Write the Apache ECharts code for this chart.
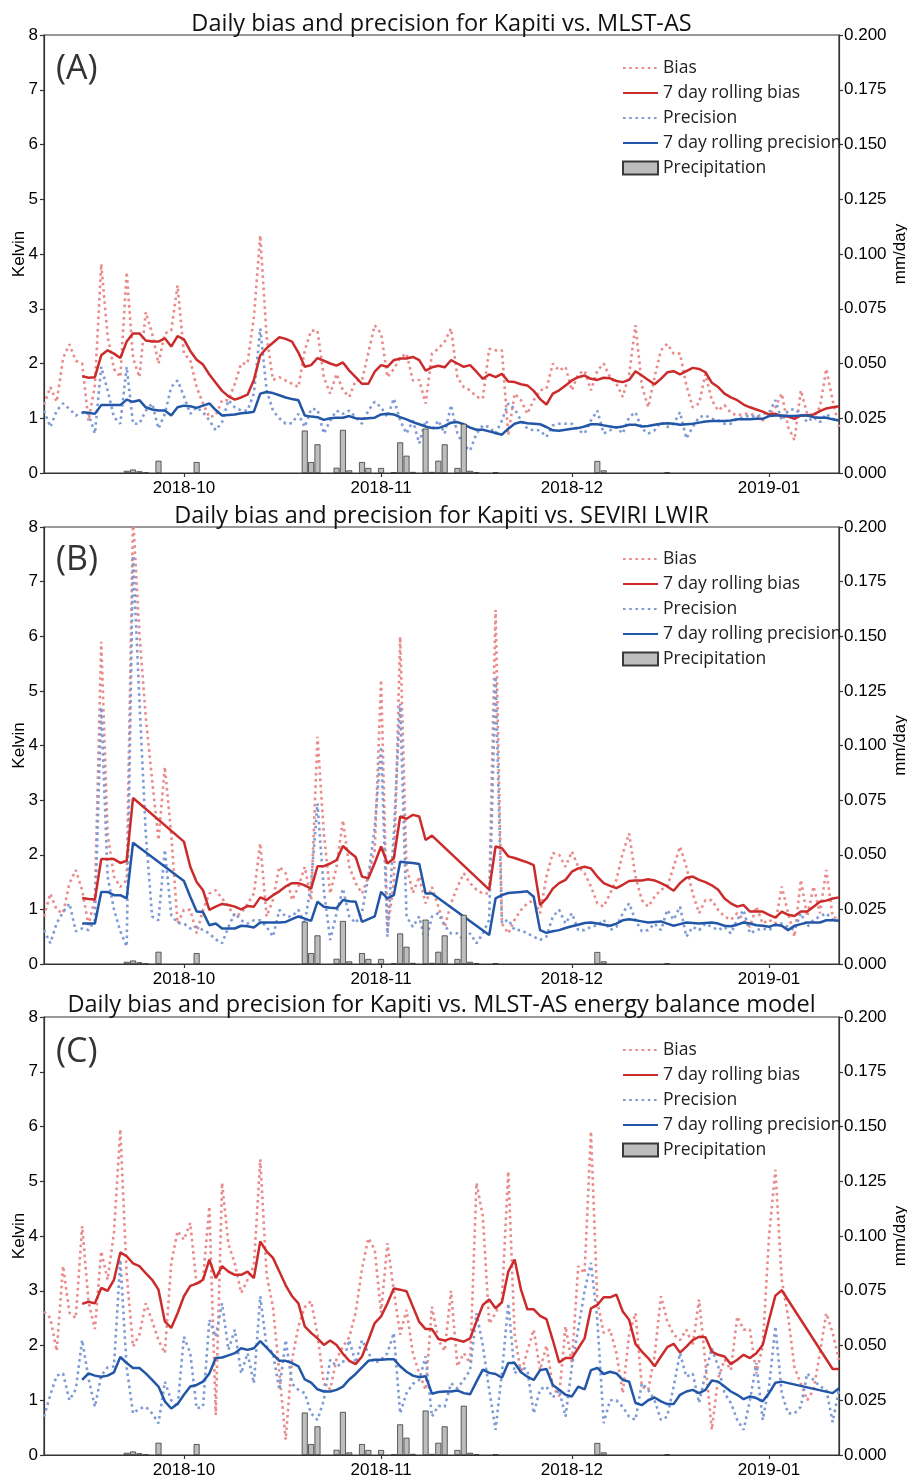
<!DOCTYPE html>
<html><head><meta charset="utf-8">
<script src="https://cdn.jsdelivr.net/npm/echarts@6/dist/echarts.min.js"></script>
<style>html,body{margin:0;padding:0;background:#fff}#chart{width:907px;height:1476px}</style>
</head><body><div id="chart"></div>
<script>
// ---- Data (daily values from 2018-09-09, one per day) ----
const startDate = [2018, 8, 9];
const lastDay = 125;
const monthTicks = ['2018-10-01', '2018-11-01', '2018-12-01', '2019-01-01'];
const seriesNames = ['Bias', '7 day rolling bias', 'Precision', '7 day rolling precision', 'Precipitation'];
const titles = [
  'Daily bias and precision for Kapiti vs. MLST-AS',
  'Daily bias and precision for Kapiti vs. SEVIRI LWIR',
  'Daily bias and precision for Kapiti vs. MLST-AS energy balance model'
];
const panelLabels = ['(A)', '(B)', '(C)'];

const biasA = [1.25,1.57,1.3,2.1,2.35,2.05,2.0,0.95,1.6,3.82,
 2.5,1.9,1.75,3.67,2.1,1.75,2.94,2.55,2.0,2.55,
 2.6,3.43,2.18,2.06,1.57,1.27,1.02,1.05,1.33,1.33,
 1.63,2.0,2.0,2.85,4.34,2.5,1.7,1.75,1.69,1.63,
 1.57,2.24,2.6,2.6,1.75,1.45,1.81,1.51,1.39,1.69,
 1.69,2.2,2.7,2.55,1.75,1.9,2.1,2.18,1.69,1.7,
 1.27,2.18,2.27,2.4,2.64,1.75,1.57,1.51,1.39,1.36,
 2.27,2.24,2.24,0.69,1.45,1.33,1.08,1.33,1.51,1.54,
 2.0,1.87,1.94,1.51,1.81,1.87,1.51,1.87,2.0,1.75,
 1.63,1.39,1.8,2.7,1.6,1.2,1.75,2.24,2.36,2.18,
 2.18,1.6,1.2,1.27,1.81,1.33,1.14,1.24,1.1,1.05,
 1.08,1.08,1.05,0.96,1.05,1.2,1.45,0.84,0.6,1.51,
 1.08,1.02,1.2,1.9,1.33,0.84];
const precA = [1.14,0.84,1.14,1.27,1.17,1.05,1.1,1.08,0.72,1.94,
 1.51,1.02,0.9,1.94,0.9,0.9,1.14,1.27,0.81,1.08,
 1.57,1.69,1.4,1.08,1.2,1.11,0.96,0.78,0.93,1.33,
 1.2,1.14,1.14,1.45,2.64,1.51,1.14,1.0,0.9,0.91,
 1.08,0.84,1.17,1.16,0.72,0.96,1.14,1.08,1.14,1.02,
 0.9,1.14,1.3,1.2,1.02,1.36,0.96,0.72,0.96,0.54,
 0.96,0.78,0.96,0.72,1.24,0.72,0.51,0.41,0.72,0.87,
 0.84,0.72,0.96,1.27,1.17,0.96,0.81,0.78,0.78,0.66,
 0.87,0.9,0.9,0.9,0.78,0.72,0.96,1.14,0.72,0.78,
 0.84,0.72,1.02,1.11,0.81,0.72,0.78,0.93,0.84,0.9,
 1.11,0.63,0.84,1.02,1.05,0.99,0.96,0.9,0.9,0.99,
 1.02,1.05,1.02,1.08,1.1,1.33,0.96,1.14,1.17,1.08,
 0.93,1.02,0.93,1.08,0.99,0.96];
const rollBiasA = [null,null,null,null,null,null,
 1.77,1.74,1.75,2.15,2.24,2.18,2.1,2.4,2.55,2.55,
 2.42,2.4,2.4,2.46,2.31,2.5,2.44,2.23,2.07,1.98,
 1.8,1.65,1.5,1.4,1.34,1.38,1.43,1.7,2.15,2.28,
 2.38,2.48,2.45,2.4,2.2,1.94,1.97,2.1,2.05,2.0,
 1.96,2.02,1.87,1.75,1.63,1.63,1.85,1.97,1.94,2.06,
 2.09,2.09,2.12,2.06,1.87,1.93,1.96,1.93,2.06,2.0,
 1.94,1.97,1.85,1.72,1.8,1.75,1.81,1.67,1.66,1.62,
 1.6,1.5,1.35,1.25,1.45,1.51,1.6,1.69,1.75,1.78,
 1.72,1.7,1.74,1.73,1.68,1.66,1.7,1.86,1.78,1.7,
 1.62,1.72,1.84,1.86,1.8,1.86,1.92,1.9,1.84,1.65,
 1.57,1.45,1.38,1.33,1.25,1.2,1.16,1.12,1.07,1.08,
 1.04,1.03,0.99,1.05,1.05,1.07,1.13,1.18,1.2,1.22];
const rollPrecA = [null,null,null,null,null,null,
 1.11,1.1,1.08,1.24,1.24,1.24,1.24,1.34,1.3,1.33,
 1.2,1.16,1.14,1.14,1.05,1.2,1.23,1.22,1.19,1.23,
 1.27,1.15,1.05,1.06,1.07,1.09,1.1,1.12,1.45,1.48,
 1.46,1.42,1.38,1.35,1.33,1.05,1.03,1.02,0.97,1.0,
 1.01,1.01,1.04,1.0,0.99,1.0,1.01,1.07,1.08,1.07,
 1.02,0.98,0.93,0.89,0.85,0.82,0.82,0.86,0.92,0.93,
 0.89,0.83,0.79,0.79,0.76,0.73,0.7,0.81,0.9,0.93,
 0.91,0.9,0.89,0.84,0.78,0.77,0.79,0.81,0.82,0.85,
 0.89,0.89,0.87,0.85,0.83,0.85,0.88,0.88,0.85,0.86,
 0.88,0.9,0.91,0.9,0.88,0.89,0.9,0.92,0.94,0.95,
 0.95,0.95,0.96,0.98,0.98,0.98,0.99,0.99,1.04,1.05,
 1.05,1.04,1.04,1.05,1.05,1.02,1.01,1.01,0.98,0.96];

const biasB = [0.87,1.29,0.99,0.93,1.48,1.72,1.35,0.71,1.2,5.9,
 2.39,1.6,1.41,1.54,8.2,6.05,4.52,3.37,2.27,3.61,
 2.39,0.74,0.99,0.99,0.56,0.99,1.29,1.35,1.2,1.05,
 0.87,0.93,1.1,1.29,2.21,0.87,1.17,1.78,1.66,1.17,
 1.41,1.78,1.17,4.16,2.39,1.29,1.78,2.63,1.78,1.48,
 1.29,1.6,2.09,5.2,0.62,1.48,5.99,1.78,1.3,1.6,
 1.11,1.41,1.05,0.68,1.11,1.41,1.66,1.48,1.36,1.29,
 1.29,6.48,0.74,0.56,0.81,0.99,1.11,1.17,0.93,1.6,
 2.03,2.0,1.78,2.06,1.78,1.66,1.42,1.11,1.05,1.29,
 1.54,2.03,2.39,1.6,1.17,1.05,1.23,1.36,1.42,1.78,
 2.15,1.78,1.29,0.93,1.17,1.17,0.99,0.87,0.81,0.93,
 0.81,0.68,1.05,0.74,0.81,0.74,1.42,0.93,0.5,1.54,
 0.87,1.42,0.93,1.72,0.87,0.81];
const precB = [0.62,0.38,0.75,0.95,1.11,0.6,0.65,0.62,0.8,4.7,
 1.6,1.0,0.6,0.32,7.48,4.83,2.39,0.87,0.8,2.09,
 0.9,0.75,0.74,0.65,0.68,0.62,0.56,0.45,0.38,0.68,
 0.93,0.8,0.74,0.8,0.8,0.68,0.5,0.99,0.87,0.87,
 0.99,0.74,1.48,2.94,1.35,0.44,0.93,1.38,0.87,0.75,
 0.95,1.6,2.5,3.98,0.5,2.39,4.77,0.87,0.68,0.87,
 0.38,0.87,0.93,0.7,0.56,0.56,0.44,0.56,0.38,0.56,
 0.81,5.26,0.75,0.81,0.62,0.62,0.56,0.5,0.44,0.5,
 0.87,0.99,0.74,0.93,0.62,0.62,0.68,0.71,0.81,0.62,
 0.68,0.93,1.11,0.8,0.6,0.62,0.74,0.62,0.99,0.81,
 1.05,0.5,0.68,0.62,0.74,0.68,0.62,0.68,0.56,0.81,
 0.99,0.56,0.62,0.65,0.62,0.71,0.74,0.68,0.62,0.93,
 0.68,0.81,0.87,0.93,0.81,0.81];
const rollBiasB = [null,null,null,null,null,null,
 1.21,1.19,1.18,1.92,1.92,1.92,1.85,1.89,3.04,null,
 null,null,null,null,null,null,2.24,1.78,1.5,1.35,
 0.99,1.05,1.1,1.08,1.05,1.0,1.06,1.05,1.22,1.17,
 1.26,1.33,1.42,1.48,1.48,1.44,1.38,1.79,1.79,1.84,
 1.9,2.16,2.05,1.96,1.6,1.57,1.85,2.15,1.84,1.93,
 2.7,2.66,2.73,2.7,2.27,2.35,null,null,null,null,
 null,null,null,null,1.36,2.15,2.12,1.97,1.94,1.9,
 1.86,1.81,1.08,1.2,1.38,1.48,1.54,1.69,1.75,1.78,
 1.75,1.6,1.48,1.43,1.39,1.45,1.52,1.53,1.53,1.55,
 1.53,1.48,1.42,1.34,1.48,1.58,1.6,1.54,1.5,1.44,
 1.36,1.2,1.11,1.05,1.08,0.96,0.96,0.96,0.9,0.85,
 0.96,0.9,0.88,0.96,0.96,1.05,1.14,1.16,1.2,1.22];
const rollPrecB = [null,null,null,null,null,null,
 0.74,0.74,0.74,1.32,1.32,1.26,1.26,1.2,2.22,null,
 null,null,null,null,null,null,1.52,1.23,0.96,0.95,
 0.71,0.74,0.65,0.65,0.65,0.7,0.69,0.67,0.76,0.76,
 0.76,0.76,0.77,0.82,0.87,0.83,0.79,1.14,1.05,1.03,
 1.02,1.17,1.15,1.14,0.77,0.82,0.87,1.32,1.2,1.26,
 1.87,1.86,1.85,1.83,1.29,1.29,null,null,null,null,
 null,null,null,null,0.53,1.2,1.26,1.3,1.31,1.32,
 1.33,1.23,0.62,0.57,0.6,0.62,0.66,0.69,0.72,0.75,
 0.76,0.74,0.72,0.7,0.74,0.8,0.82,0.8,0.78,0.76,
 0.77,0.78,0.74,0.7,0.73,0.76,0.75,0.74,0.75,0.76,
 0.74,0.7,0.69,0.72,0.76,0.74,0.71,0.7,0.68,0.72,
 0.7,0.62,0.7,0.73,0.76,0.76,0.76,0.8,0.8,0.79];

const biasC = [2.62,2.5,1.9,3.45,2.6,2.5,4.18,2.8,2.3,3.72,
 3.2,4.06,5.95,3.3,1.98,2.2,2.77,2.45,2.1,1.86,
 3.5,4.09,3.93,4.24,3.1,3.2,4.54,0.73,4.97,3.85,
 3.5,2.96,3.2,3.45,5.4,3.3,2.7,1.5,0.28,1.74,
 2.35,2.7,2.81,2.2,1.3,1.2,1.75,1.98,2.15,2.6,
 3.4,3.96,3.75,2.6,3.87,3.0,2.2,2.65,1.86,1.49,
 1.19,2.71,2.1,1.9,3.0,1.62,1.86,1.68,4.97,4.36,
 2.4,2.59,2.84,5.18,2.2,1.49,1.9,2.29,1.55,2.0,
 1.25,1.07,2.35,1.68,3.45,3.32,5.91,2.8,2.23,2.29,
 1.86,1.13,2.2,2.59,1.25,1.19,1.8,2.9,2.45,2.2,
 2.1,2.29,2.0,2.84,1.68,0.46,1.4,1.74,1.55,2.53,
 2.29,2.29,1.49,1.98,3.99,5.21,3.2,2.53,1.6,1.3,
 1.0,1.19,1.86,2.59,2.23,1.74];
const precC = [0.7,1.1,1.45,1.49,1.0,1.2,2.1,1.4,0.88,1.45,
 1.6,1.62,3.57,1.6,0.76,0.85,0.88,0.76,0.58,1.34,
 1.0,0.88,2.16,1.86,0.85,0.88,2.47,2.16,2.77,1.92,
 2.29,1.49,1.86,1.31,2.9,1.98,1.86,1.19,2.1,1.3,
 1.19,1.13,0.76,0.64,1.0,1.74,1.62,1.68,2.1,1.68,
 2.1,1.86,1.68,1.74,1.86,2.23,0.76,1.13,1.3,1.37,
 1.8,0.7,0.9,0.88,1.31,1.22,1.37,1.55,2.59,2.0,
 1.19,0.46,1.5,2.77,1.49,1.62,1.55,0.76,1.2,1.25,
 1.05,1.19,0.7,1.62,2.3,3.0,3.51,2.47,0.58,1.0,
 1.0,0.88,0.7,0.64,1.31,1.19,1.0,0.64,0.7,1.25,
 1.86,1.43,1.49,0.95,1.49,1.95,1.62,1.13,0.95,0.64,
 0.46,1.0,1.68,0.64,1.25,2.35,1.13,0.76,0.76,0.88,
 1.49,1.37,1.25,1.2,0.6,1.19];
const rollBiasC = [null,null,null,null,null,null,
 2.76,2.8,2.77,3.05,3.0,3.2,3.7,3.63,3.5,3.45,
 3.32,3.2,3.02,2.44,2.32,2.59,2.9,3.09,3.13,3.2,
 3.57,3.23,3.45,3.35,3.29,3.29,3.35,3.23,3.9,3.72,
 3.6,3.35,3.1,2.9,2.77,2.35,2.23,2.13,2.01,2.09,
 2.01,1.85,1.72,1.66,1.8,2.1,2.41,2.53,2.77,3.04,
 3.02,2.99,2.71,2.43,2.3,2.3,2.12,2.09,2.13,2.1,
 2.07,2.13,2.44,2.74,2.84,2.68,2.79,3.35,3.57,3.02,
 2.66,2.66,2.54,2.48,2.1,1.69,1.77,1.77,1.95,2.13,
 2.68,2.74,2.88,2.88,2.93,2.62,2.47,2.03,1.89,1.77,
 1.62,1.8,1.97,2.03,1.87,1.98,2.1,2.16,2.15,1.89,
 1.83,1.8,1.66,1.74,1.83,1.77,1.86,2.01,2.47,2.91,
 3.01,null,null,null,null,null,null,null,1.57,1.57];
const rollPrecC = [null,null,null,null,null,null,
 1.37,1.49,1.45,1.43,1.45,1.51,1.79,1.68,1.59,1.59,
 1.49,1.37,1.25,0.98,0.85,0.93,1.1,1.25,1.28,1.34,
 1.49,1.77,1.78,1.82,1.86,1.95,1.92,1.95,2.08,1.96,
 1.84,1.72,1.72,1.68,1.62,1.38,1.32,1.2,1.16,1.16,
 1.19,1.25,1.38,1.48,1.6,1.72,1.74,1.74,1.75,1.75,
 1.62,1.52,1.45,1.42,1.44,1.12,1.15,1.16,1.16,1.18,
 1.13,1.11,1.34,1.56,1.5,1.48,1.41,1.68,1.68,1.51,
 1.43,1.37,1.55,1.57,1.28,1.19,1.1,1.07,1.25,1.2,
 1.55,1.59,1.48,1.52,1.49,1.37,1.34,0.95,0.91,1.0,
 1.05,0.98,0.93,0.93,1.1,1.16,1.19,1.13,1.19,1.36,
 1.34,1.25,1.16,1.1,1.02,1.07,1.04,0.98,1.13,1.32,
 1.34,null,null,null,null,null,null,null,1.13,1.22];

const precipDates = ['2018-09-22','2018-09-23','2018-09-24','2018-09-25','2018-09-27','2018-10-03',
 '2018-10-20','2018-10-21','2018-10-22','2018-10-25','2018-10-26','2018-10-27','2018-10-29','2018-10-30',
 '2018-11-01','2018-11-03','2018-11-04','2018-11-05','2018-11-06','2018-11-08','2018-11-09','2018-11-10',
 '2018-11-11','2018-11-13','2018-11-14','2018-11-15','2018-11-16','2018-11-19','2018-12-05','2018-12-06','2018-12-16'];
const precipValues = [0.001,0.0016,0.0008,0.0002,0.0056,0.005,
 0.0194,0.005,0.0131,0.0024,0.0197,0.0012,0.005,0.0023,
 0.0023,0.0003,0.014,0.0079,0.0005,0.0203,0.0005,0.0056,
 0.0131,0.0023,0.0225,0.001,0.0004,0.0004,0.0055,0.0012,0.0003];

const panels = [
  {bias: biasA, prec: precA, rollBias: rollBiasA, rollPrec: rollPrecA},
  {bias: biasB, prec: precB, rollBias: rollBiasB, rollPrec: rollPrecB},
  {bias: biasC, prec: precC, rollBias: rollBiasC, rollPrec: rollPrecC}
];

// ---- Layout ----
const plotLeft = 44, plotWidth = 795;
const gridTops = [35, 527, 1017];
const gridHeights = [438, 437, 438];
const titleTops = [12, 504, 993];
const legendTops = [59, 550, 1041];
const labelTops = [52, 543, 1035];

const COL_BIAS = '#e98b8b', COL_RBIAS = '#cc2b2b', COL_PREC = '#7f9bd5', COL_RPREC = '#2256a6';
const TICK_FONT = '"Liberation Sans", Arial, sans-serif';
const TEXT_FONT = '"Open Sans", sans-serif';

function dayTs(i) { return new Date(startDate[0], startDate[1], startDate[2] + i).getTime(); }
function pairs(arr) { return arr.map((v, i) => [dayTs(i), v]).filter(p => p[1] !== null); }
function parseDate(s) { const p = s.split('-').map(Number); return new Date(p[0], p[1] - 1, p[2]).getTime(); }
const monthTs = monthTicks.map(parseDate);
const axisLineStyle = {color: '#333', width: 1.2};
function fmtMonth(v) { const d = new Date(v); return d.getFullYear() + '-' + String(d.getMonth() + 1).padStart(2, '0'); }

const option = {
  animation: false,
  backgroundColor: '#fff',
  title: titles.map((t, k) => ({
    text: t, left: plotLeft + plotWidth / 2, top: titleTops[k], textAlign: 'center', padding: 0,
    textStyle: {fontFamily: TEXT_FONT, fontSize: 23.5, fontWeight: 'normal', color: '#111'}
  })),
  legend: legendTops.map(t => ({
    top: t, left: 622, orient: 'vertical', padding: 0,
    itemWidth: 35, itemHeight: 13, itemGap: 7,
    textStyle: {fontFamily: TEXT_FONT, fontSize: 17.5, color: '#222', lineHeight: 18},
    data: seriesNames.map(n => n === 'Precipitation'
      ? {name: n, icon: 'rect'}
      : {name: n, itemStyle: {opacity: 0}})
  })),
  grid: gridTops.map((t, k) => ({
    left: plotLeft, top: t, width: plotWidth, height: gridHeights[k],
    outerBoundsMode: 'none', containLabel: false,
    show: true, borderColor: '#333', borderWidth: 1.2, backgroundColor: 'transparent'
  })),
  xAxis: gridTops.map((t, k) => ({
    gridIndex: k, type: 'value', min: dayTs(0), max: dayTs(lastDay),
    axisLine: {show: true, onZero: false, lineStyle: axisLineStyle},
    axisTick: {show: true, length: 4, lineStyle: axisLineStyle, customValues: monthTs},
    axisLabel: {customValues: monthTs, margin: 7, fontSize: 17, fontFamily: TICK_FONT, color: '#000', formatter: fmtMonth},
    splitLine: {show: false}
  })),
  yAxis: [],
  series: [],
  graphic: panelLabels.map((l, k) => ({
    type: 'text', left: 56, top: labelTops[k],
    style: {text: l, font: '34px "Open Sans"', fill: '#333'}
  }))
};

gridTops.forEach((t, k) => {
  option.yAxis.push({
    gridIndex: k, type: 'value', min: 0, max: 8, interval: 1, position: 'left',
    name: 'Kelvin', nameLocation: 'middle', nameRotate: 90, nameGap: 16, nameMoveOverlap: false,
    nameTextStyle: {fontSize: 17, fontFamily: TICK_FONT, color: '#000'},
    axisLine: {show: true, lineStyle: axisLineStyle},
    axisTick: {show: true, length: 4, lineStyle: axisLineStyle},
    axisLabel: {fontSize: 17, fontFamily: TICK_FONT, color: '#000', margin: 6},
    splitLine: {show: false}
  });
  option.yAxis.push({
    gridIndex: k, type: 'value', min: 0, max: 0.2, interval: 0.025, position: 'right',
    name: 'mm/day', nameLocation: 'middle', nameRotate: 90, nameGap: 53, nameMoveOverlap: false,
    nameTextStyle: {fontSize: 17, fontFamily: TICK_FONT, color: '#000'},
    axisLine: {show: true, lineStyle: axisLineStyle},
    axisTick: {show: true, length: 4, lineStyle: axisLineStyle},
    axisLabel: {fontSize: 17, fontFamily: TICK_FONT, color: '#000', margin: 5, formatter: v => v.toFixed(3)},
    splitLine: {show: false}
  });
  const p = panels[k];
  const lineBase = {type: 'line', xAxisIndex: k, yAxisIndex: 2 * k, symbol: 'none', showSymbol: false};
  option.series.push(Object.assign({}, lineBase, {
    name: seriesNames[0], data: pairs(p.bias), z: 2,
    lineStyle: {color: COL_BIAS, width: 2.6, type: [2.6, 3.6]}, itemStyle: {color: COL_BIAS}
  }));
  option.series.push(Object.assign({}, lineBase, {
    name: seriesNames[1], data: pairs(p.rollBias), z: 3,
    lineStyle: {color: COL_RBIAS, width: 2.5}, itemStyle: {color: COL_RBIAS}
  }));
  option.series.push(Object.assign({}, lineBase, {
    name: seriesNames[2], data: pairs(p.prec), z: 2,
    lineStyle: {color: COL_PREC, width: 2.6, type: [2.6, 3.6]}, itemStyle: {color: COL_PREC}
  }));
  option.series.push(Object.assign({}, lineBase, {
    name: seriesNames[3], data: pairs(p.rollPrec), z: 3,
    lineStyle: {color: COL_RPREC, width: 2.5}, itemStyle: {color: COL_RPREC}
  }));
  option.series.push({
    name: seriesNames[4], type: 'bar', xAxisIndex: k, yAxisIndex: 2 * k + 1, barWidth: 6, z: 4,
    data: precipDates.map((d, i) => [parseDate(d), precipValues[i]]),
    itemStyle: {color: '#bdbdbd', borderColor: '#3a3a3a', borderWidth: 0.8}
  });
});

const chart = echarts.init(document.getElementById('chart'), null, {renderer: 'canvas'});
chart.setOption(option);
</script>
</body></html>
